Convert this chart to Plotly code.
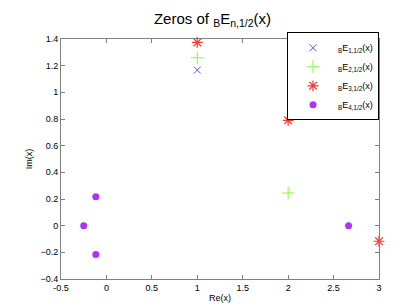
import plotly.graph_objects as go

e1_re = [1.0]
e1_im = [1.167]
e2_re = [1.0, 2.0]
e2_im = [1.259, 0.245]
e3_re = [1.0, 2.0, 3.0]
e3_im = [1.374, 0.790, -0.117]
e4_re = [-0.25, -0.117, -0.117, 2.665]
e4_im = [0.0, 0.217, -0.217, 0.0]

x_ticks = [-0.5, 0, 0.5, 1, 1.5, 2, 2.5, 3]
y_ticks = [-0.4, -0.2, 0, 0.2, 0.4, 0.6, 0.8, 1, 1.2, 1.4]

names = ["<sub>B</sub>E<sub>1,1/2</sub>(x)", "<sub>B</sub>E<sub>2,1/2</sub>(x)",
         "<sub>B</sub>E<sub>3,1/2</sub>(x)", "<sub>B</sub>E<sub>4,1/2</sub>(x)"]

fig = go.Figure()
fig.add_trace(go.Scatter(x=e1_re, y=e1_im, mode="markers", name=names[0], cliponaxis=False,
                         marker=dict(symbol="x-thin-open", size=7, color="#4a5cff",
                                     line=dict(color="#4a5cff", width=1))))
fig.add_trace(go.Scatter(x=e2_re, y=e2_im, mode="markers", name=names[1], cliponaxis=False,
                         marker=dict(symbol="cross-thin-open", size=9, color="#7cff3a",
                                     line=dict(color="#7cff3a", width=1))))
fig.add_trace(go.Scatter(x=e3_re, y=e3_im, mode="markers", name=names[2], cliponaxis=False,
                         marker=dict(symbol="asterisk-open", size=9, color="#ff3030",
                                     line=dict(color="#ff3030", width=1.2))))
fig.add_trace(go.Scatter(x=e4_re, y=e4_im, mode="markers", name=names[3], cliponaxis=False,
                         marker=dict(symbol="circle", size=7, color="#b030ff")))

axis_common = dict(showline=True, linecolor="#808080", linewidth=1, mirror="ticks",
                   ticks="inside", ticklen=4, tickcolor="#808080", showgrid=False,
                   zeroline=False, tickfont=dict(size=9, color="black"))

fig.update_layout(
    width=409, height=307,
    margin=dict(l=53, r=38, t=31, b=36),
    paper_bgcolor="white", plot_bgcolor="white",
    font=dict(family="Liberation Sans, Arial, sans-serif", color="black"),
    title=dict(text="Zeros of <sub>B</sub>E<sub>n,1/2</sub>(x)", x=0.5, xanchor="center",
               y=0.965, yanchor="middle", font=dict(size=15)),
    xaxis=dict(range=[-0.5, 3], tickvals=x_ticks, ticktext=[f"{v:g}" for v in x_ticks],
               title=dict(text="Re(x)", font=dict(size=9), standoff=2), **axis_common),
    yaxis=dict(range=[-0.4, 1.4], tickvals=y_ticks, ticktext=[f"{v:g}".replace("-", "\u2212") for v in y_ticks],
               title=dict(text="Im(x)", font=dict(size=9), standoff=6), **axis_common),
    legend=dict(x=1, y=1.028, xanchor="right", yanchor="top", bordercolor="black", borderwidth=1,
                bgcolor="white", font=dict(size=9), tracegroupgap=0, itemwidth=40),
    showlegend=True,
)

fig.write_html("out.html")
